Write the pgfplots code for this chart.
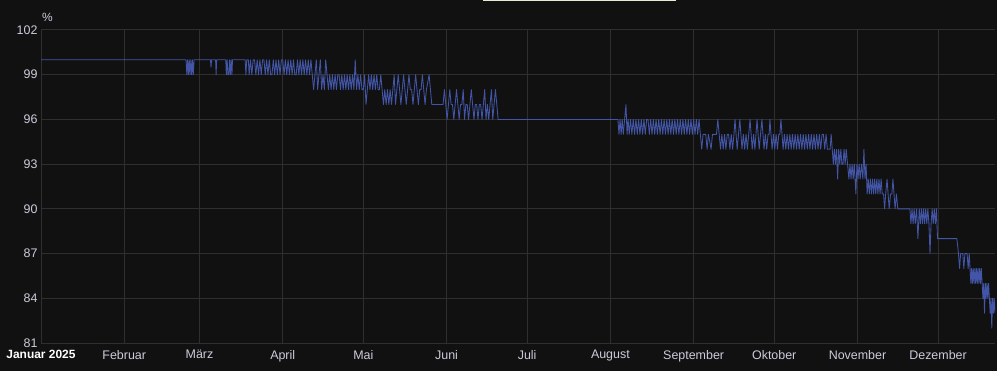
\documentclass[border=0pt]{standalone}
\usepackage{pgfplots}
\pgfplotsset{compat=1.18}
\usepackage{fontspec}
\setmainfont{Liberation Sans}
\definecolor{bg}{HTML}{111111}
\definecolor{gridc}{HTML}{2F2F2F}
\definecolor{tickc}{HTML}{CCCCDC}
\definecolor{linec}{HTML}{4355A6}
\definecolor{strip}{HTML}{E6ECD2}
\begin{document}
\begin{tikzpicture}
\fill[bg] (0,0) rectangle (997bp,371bp);
\fill[strip] (483bp,369.5bp) rectangle (676bp,371bp);
\begin{axis}[
  name=ax,
  at={(41bp,28bp)}, anchor=south west,
  scale only axis, width=954bp, height=313bp,
  xmin=0, xmax=355.2, ymin=81, ymax=102,
  ytick={81,84,...,102},
  xtick={0,31,59,90,120,151,181,212,243,273,304,334},
  xticklabels={{\fontsize{12}{14}\selectfont\textbf{\color{white}Januar 2025}},Februar,März,April,Mai,Juni,Juli,August,September,Oktober,November,Dezember},
  grid=major,
  major grid style={draw=gridc, line width=1bp},
  axis line style={draw=none},
  tick style={draw=none},
  major tick length=0pt,
  ticklabel style={font=\fontsize{12.5}{14}\selectfont, text=tickc},
  xticklabel style={yshift=-3.5bp},
  /pgf/number format/assume math mode=true,
  clip=true,
]
\addplot[linec, line width=0.85bp, line join=round] coordinates {
(0,100) (54,100) (54.3,99) (54.6,100) (54.9,99) (55.2,100) (55.5,99) (55.8,100) (56.1,99) (56.4,100) (56.7,99) (57,100)
(63.1,100) (63.3,99.5) (63.5,100)
(65.0,100) (65.2,99) (65.4,100)
(68.8,100) (69.0,99) (69.3,100) (69.6,99) (69.9,99) (70.2,100) (70.5,99) (70.8,100) (71.1,99) (71.3,100)
(76.0,100) (76.3,99) (76.6,100)
(77.2,100) (77.5,99) (78,100) (78.5,99) (79,100) (79.5,100) (80,99) (80.5,100) (81,99) (81.5,100) (82,99) (82.5,100) (83,100) (83.5,99) (84,100) (84.5,99) (85,100) (85.5,99) (86,99) (86.5,100) (87,99) (87.5,100) (88,99) (88.5,100) (89,99) (89.5,100) (90,100) (90.5,99) (91,100) (91.5,99) (92,100) (92.5,99) (93,100) (93.5,99) (94,100) (94.5,99) (95,99) (95.5,100) (96,99) (96.5,100) (97,99) (97.5,100) (98,99) (98.5,100) (99,99) (99.5,100) (100,99) (100.5,100) (101,99)
(101.5,98) (102,99) (102.5,100) (103,98) (103.5,99) (104,100) (104.5,98) (105,99) (105.5,98) (106,100) (106.5,99) (107,98) (107.5,99)
(108,98) (108.5,99) (109,98) (109.5,99) (110,98) (110.5,99) (111,99) (111.5,98) (112,99) (112.5,98) (113,99) (113.5,98) (114,99) (114.5,98) (115,99) (115.5,98) (116,99) (116.5,98)
(117,100) (117.5,98) (118,99) (118.5,98) (119,99) (119.5,98) (120,98) (120.5,99) (121,97) (121.5,98) (122,99) (122.5,98) (123,99) (123.5,98) (124,99) (124.5,98) (125,99) (125.5,98) (126,98) (126.5,99) (127,98)
(127.5,97) (128,98) (128.5,97) (129,98) (129.5,97) (130,98) (130.5,97) (131,98)
(131.5,99) (132,97) (132.5,98) (133,99) (133.5,98) (134,97) (134.5,98) (135,99) (135.5,98) (136,97) (136.5,98) (137,99) (137.5,98) (138,98) (138.5,97) (139,98) (139.5,99) (140,98) (140.5,97) (141,98) (141.5,98) (142,99) (142.5,98) (143,97) (143.5,98) (144.5,99) (145.5,97)
(149.7,97)
(150.2,98) (150.7,97) (151.2,96) (151.7,97) (152.2,98) (152.7,97) (153.2,97) (153.7,96) (154.2,97) (154.7,98) (155.2,97) (155.7,96) (156.2,97) (156.7,97) (157.2,98) (157.7,96) (158.2,97) (158.7,97) (159.2,96) (159.7,97) (160.2,98) (160.7,97) (161.2,96) (161.7,97) (162.2,97) (162.7,96) (163.2,97) (163.7,97) (164.2,96) (164.7,97) (165.2,98) (165.7,96) (166.2,97) (166.7,96) (167.2,97) (167.7,98) (168.2,96) (168.7,97) (169.2,98) (169.7,97) (170.2,96) (170.9,96)
(214.8,96)
(215.2,95) (215.6,96) (216,95) (216.4,96) (216.8,95) (217.3,96) (217.8,97) (218.2,95) (218.6,96) (219,95) (219.5,96) (220,95) (220.5,96) (221,95) (221.5,96) (222,95) (222.5,96) (223,95) (223.5,96) (224,95) (224.5,96) (225,95) (225.5,96) (226,96) (226.5,95) (227,96) (227.5,95) (228,96) (228.5,95) (229,96) (229.5,95) (230,96) (230.5,95) (231,96) (231.5,95) (232,96) (232.5,95) (233,96) (233.5,95) (234,96) (234.5,95) (235,96) (235.5,95) (236,96) (236.5,95) (237,96) (237.5,95) (238,96) (238.5,95) (239,96) (239.5,95) (240,96) (240.5,95) (241,96) (241.5,95) (242,96) (242.5,95) (243,96) (243.5,95) (244,96) (244.5,95) (245,96)
(245.5,95) (246,94) (246.5,95) (247.5,95) (248,94) (248.5,95) (249.5,94) (250,95) (251.5,95) (252,96) (252.5,95)
(253,94) (253.5,95) (254,94) (254.5,95) (255,94) (255.5,95) (256,95) (256.5,94) (257,95) (257.5,94) (258,95) (258.4,96) (258.8,95) (259.2,94) (259.7,95) (260.2,96) (260.6,95) (261,94) (261.5,95) (262,94) (262.5,95) (263,94) (263.5,95) (264,96) (264.4,95) (264.8,94) (265.3,95) (265.8,94) (266.2,95) (266.6,96) (267,95) (267.4,94) (267.9,95) (268.4,96) (268.8,95) (269.2,94) (269.7,95) (270.2,94) (270.7,95) (271.1,95) (271.4,96) (271.8,95) (272.2,94) (272.7,95) (273.2,94) (273.7,95) (274.2,94) (274.7,95) (275.1,95) (275.5,96) (275.9,95) (276.3,94)
(276.8,95) (277.3,94) (277.8,95) (278.3,94) (278.8,95) (279.3,94) (279.8,95) (280.3,94) (280.8,95) (281.3,94) (281.8,95) (282.3,94) (282.8,95) (283.3,94) (283.8,95) (284.3,94) (284.8,95) (285.3,94) (285.8,95) (286.3,94) (286.8,95) (287.3,94) (287.8,95) (288.3,94) (288.8,95) (289.3,94) (289.8,95) (290.3,94) (290.8,95) (291.3,95) (291.8,94) (292.3,95)
(292.8,94) (293.8,94) (294.2,95) (294.6,94) (295,93) (295.4,94) (295.8,93) (296.2,94) (296.6,92) (297,94) (297.4,93) (297.8,94) (298.2,93) (298.6,93) (299,94) (299.4,93) (299.8,94) (300.3,93)
(300.8,92) (301.2,93) (301.6,92) (302,93) (302.4,92) (302.8,93) (303.4,91) (303.8,93) (304.2,92) (304.6,93) (305,92) (305.5,93) (306,92) (306.4,94) (306.8,92) (307.2,93)
(307.6,91) (308,92) (308.4,91) (308.8,92) (309.2,91) (309.6,92) (310,91) (310.4,92) (310.8,91) (311.2,92) (311.6,91) (312,92) (312.4,91) (312.8,92) (313.2,91)
(313.7,91) (314.1,90) (314.5,91) (315,92) (315.4,91) (315.8,90) (316.3,91) (316.8,91) (317.2,92) (317.6,91) (318,90) (318.5,91) (319,90)
(323.5,90)
(323.9,89) (324.3,90) (324.7,89) (325.1,90) (325.5,89) (326,90) (326.5,88) (327,90) (327.4,89) (327.8,90) (328.2,89) (328.6,90) (329,89) (329.4,90) (329.8,89) (330.2,90) (330.6,89) (331,87) (331.4,89) (331.8,90) (332.2,89) (332.6,90) (333,89) (333.4,90) (333.8,88)
(334.5,88) (341,88)
(341.6,87) (342,86) (342.4,87) (343.2,87) (343.6,86) (344,87) (344.8,87) (345.2,86) (345.6,87) (345.9,86)
(346.2,85) (346.5,86) (346.8,85) (347.1,86) (347.4,85) (347.7,86) (348,85) (348.3,86) (348.6,85) (348.9,86) (349.2,85) (349.5,86) (349.8,85) (350.1,86) (350.4,85)
(350.7,84) (351,85) (351.3,83) (351.6,85) (351.9,84) (352.2,85) (352.5,84) (352.8,85) (353.1,84)
(353.4,83) (353.7,84) (354,82) (354.3,84) (354.6,83) (354.9,84) (355.2,83)
};
\end{axis}
\node[anchor=south west, inner sep=0pt, font=\fontsize{12}{14}\selectfont, text=tickc] at ([xshift=1bp, yshift=8bp]ax.north west) {\%};
\end{tikzpicture}
\end{document}
